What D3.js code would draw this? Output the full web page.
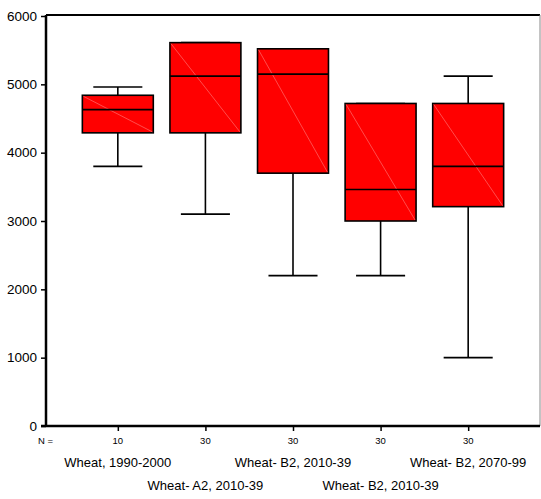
<!DOCTYPE html>
<html lang="en">
<head>
    <meta charset="utf-8">
    <script src="https://d3js.org/d3.v7.min.js"></script>
    <title>Wheat boxplot</title>
    <style>
        body {margin: 0; background: #fff;}
        svg {display: block; font-family: "Liberation Sans", Arial, sans-serif;}
        .box {fill: #ff0000; stroke: #000; stroke-width: 1.6px;}
        .diag {stroke: #ff8080; stroke-width: 0.6px;}
        .wline {stroke: #000; stroke-width: 1.6px;}
    </style>
</head>
<body>
<svg width="541" height="499"></svg>
<script>
    // categories and box statistics (min, q1, median, q3, max)
    var categories = ['Wheat, 1990-2000', 'Wheat- A2, 2010-39', 'Wheat- B2, 2010-39', 'Wheat- B2, 2010-39 ', 'Wheat- B2, 2070-99'];
    var nValues = [10, 30, 30, 30, 30];
    var mins    = [3800, 3100, 2200, 2200, 1000];
    var q1s     = [4290, 4290, 3700, 3000, 3210];
    var medians = [4630, 5120, 5150, 3460, 3800];
    var q3s     = [4840, 5610, 5520, 4720, 4720];
    var maxs    = [4960, 5610, 5520, 4720, 5120];
    var yTicks  = [0, 1000, 2000, 3000, 4000, 5000, 6000];

    var svg = d3.select('svg');
    var plotLeft = 46, plotRight = 540, plotTop = 16, plotBottom = 426;

    var x = d3.scalePoint().domain(categories).range([plotLeft, plotRight]).padding(0.82);
    var y = d3.scaleLinear().domain([0, 6000]).range([plotBottom, plotTop]);

    var step = x.step();
    var boxW = step * 0.81, capW = step * 0.56;

    var data = categories.map(function (c, i) {
        return {cat: c, n: nValues[i], min: mins[i], q1: q1s[i], med: medians[i], q3: q3s[i], max: maxs[i], i: i};
    });

    // frame: top black, right grey
    svg.append('line').attr('x1', plotLeft).attr('x2', plotRight).attr('y1', 15).attr('y2', 15)
        .attr('stroke', '#000').attr('stroke-width', 2);
    svg.append('line').attr('x1', plotRight).attr('x2', plotRight).attr('y1', 15).attr('y2', plotBottom)
        .attr('stroke', '#888').attr('stroke-width', 1);

    var g = svg.selectAll('g.item').data(data).enter().append('g').attr('class', 'item');

    // whiskers
    g.append('line').attr('class', 'wline')
        .attr('x1', d => x(d.cat)).attr('x2', d => x(d.cat))
        .attr('y1', d => y(d.max)).attr('y2', d => y(d.q3));
    g.append('line').attr('class', 'wline')
        .attr('x1', d => x(d.cat)).attr('x2', d => x(d.cat))
        .attr('y1', d => y(d.q1)).attr('y2', d => y(d.min));
    g.append('line').attr('class', 'wline')
        .attr('x1', d => x(d.cat) - capW / 2).attr('x2', d => x(d.cat) + capW / 2)
        .attr('y1', d => y(d.max)).attr('y2', d => y(d.max));
    g.append('line').attr('class', 'wline')
        .attr('x1', d => x(d.cat) - capW / 2).attr('x2', d => x(d.cat) + capW / 2)
        .attr('y1', d => y(d.min)).attr('y2', d => y(d.min));

    // boxes
    g.append('rect').attr('class', 'box')
        .attr('x', d => x(d.cat) - boxW / 2).attr('width', boxW)
        .attr('y', d => y(d.q3)).attr('height', d => y(d.q1) - y(d.q3));
    g.append('line').attr('class', 'diag')
        .attr('x1', d => x(d.cat) - boxW / 2 + 1).attr('y1', d => y(d.q3) + 1)
        .attr('x2', d => x(d.cat) + boxW / 2 - 1).attr('y2', d => y(d.q1) - 1);
    g.append('line').attr('class', 'wline')
        .attr('x1', d => x(d.cat) - boxW / 2).attr('x2', d => x(d.cat) + boxW / 2)
        .attr('y1', d => y(d.med)).attr('y2', d => y(d.med));

    // y axis
    var yAxis = svg.append('g').attr('transform', 'translate(' + plotLeft + ',0)')
        .call(d3.axisLeft(y).tickValues(yTicks).tickFormat(d3.format('d')).tickSize(5).tickPadding(4));
    yAxis.select('.domain').attr('stroke-width', 2.5).attr('d', 'M0,' + (plotTop - 1) + 'V' + plotBottom);
    yAxis.selectAll('.tick line').attr('stroke-width', 1.5);
    yAxis.selectAll('text').attr('font-size', '13.5px').attr('fill', '#000').attr('font-family', null);

    // x axis
    var xAxis = svg.append('g').attr('transform', 'translate(0,' + plotBottom + ')')
        .call(d3.axisBottom(x).tickSize(5).tickFormat(''));
    xAxis.select('.domain').attr('stroke-width', 2.5).attr('d', 'M' + (plotLeft - 5) + ',0H' + plotRight);
    xAxis.selectAll('.tick line').attr('stroke-width', 1.5);

    // N row
    svg.append('text').attr('x', 38).attr('y', 444).attr('font-size', '9.5px').text('N =');
    svg.selectAll('text.n').data(data).enter().append('text').attr('class', 'n')
        .attr('x', d => x(d.cat)).attr('y', 444).attr('text-anchor', 'middle')
        .attr('font-size', '9.5px').text(d => d.n);

    // category labels, staggered in two rows
    svg.selectAll('text.cat').data(data).enter().append('text').attr('class', 'cat')
        .attr('x', d => x(d.cat)).attr('y', d => d.i % 2 === 0 ? 467 : 490)
        .attr('text-anchor', 'middle').attr('font-size', '13px')
        .text(d => d.cat.trim());
</script>
</body>
</html>
